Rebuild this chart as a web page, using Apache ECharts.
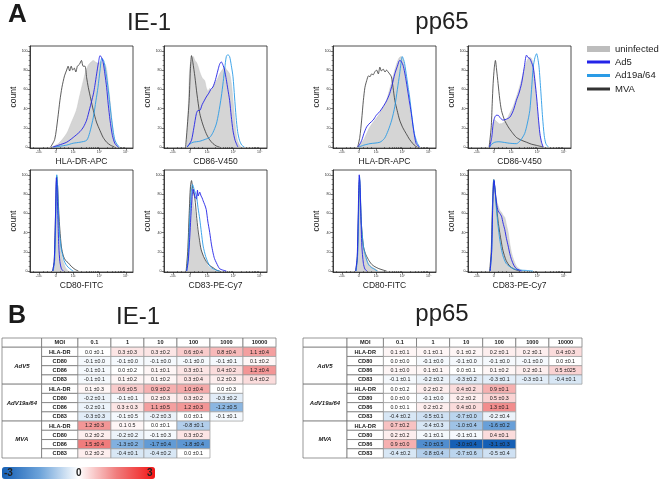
<!DOCTYPE html>
<html><head><meta charset="utf-8">
<script src="https://cdn.jsdelivr.net/npm/echarts@6/dist/echarts.min.js"></script>
<style>html,body{margin:0;padding:0;background:#fff}#c{width:660px;height:481px}</style>
</head><body><div id="c"></div>
<script>
// ================= DATA =================
const moiLabels = ['0.1','1','10','100','1000','10000'];
const markers = ['HLA-DR','CD80','CD86','CD83'];
const groups = ['AdV5','AdV19a/64','MVA'];

const ie1AdV5 = [
 ['0.0 ±0.1','0.3 ±0.3','0.3 ±0.2','0.6 ±0.4','0.8 ±0.4','1.1 ±0.4'],
 ['-0.1 ±0.0','-0.1 ±0.0','-0.1 ±0.0','-0.1 ±0.0','-0.1 ±0.1','0.1 ±0.2'],
 ['-0.1 ±0.1','0.0 ±0.2','0.1 ±0.1','0.3 ±0.1','0.4 ±0.2','1.2 ±0.4'],
 ['-0.1 ±0.1','0.1 ±0.2','0.1 ±0.2','0.3 ±0.4','0.2 ±0.3','0.4 ±0.2']];
const ie1AdV19 = [
 ['0.1 ±0.3','0.6 ±0.5','0.9 ±0.2','1.0 ±0.4','0.0 ±0.3'],
 ['-0.2 ±0.1','-0.1 ±0.1','0.2 ±0.3','0.3 ±0.2','-0.3 ±0.2'],
 ['-0.2 ±0.1','0.3 ± 0.3','1.1 ±0.5','1.2 ±0.3','-1.2 ±0.5'],
 ['-0.3 ±0.3','-0.1 ±0.5','-0.2 ±0.3','0.0 ±0.1','-0.1 ±0.1']];
const ie1MVA = [
 ['1.2 ±0.3','0.1 0.5','0.0 ±0.1','-0.8 ±0.1'],
 ['0.2 ±0.2','-0.2 ±0.2','-0.1 ±0.3','0.3 ±0.2'],
 ['1.5 ±0.4','-1.3 ±0.2','-1.7 ±0.4','-1.8 ±0.4'],
 ['0.2 ±0.2','-0.4 ±0.1','-0.4 ±0.2','0.0 ±0.1']];
const pp65AdV5 = [
 ['0.1 ±0.1','0.1 ±0.1','0.1 ±0.2','0.2 ±0.1','0.2 ±0.1','0.4 ±0.3'],
 ['0.0 ±0.0','-0.1 ±0.0','-0.1 ±0.0','-0.1 ±0.0','-0.1 ±0.0','0.0 ±0.1'],
 ['0.1 ±0.0','0.1 ±0.1','0.0 ±0.1','0.1 ±0.2','0.2 ±0.1','0.5 ±025'],
 ['-0.1 ±0.1','-0.2 ±0.2','-0.3 ±0.2','-0.3 ±0.1','-0.3 ±0.1','-0.4 ±0.1']];
const pp65AdV19 = [
 ['0.0 ±0.2','0.2 ±0.2','0.4 ±0.2','0.9 ±0.1'],
 ['0.0 ±0.0','-0.1 ±0.0','0.2 ±0.2','0.5 ±0.3'],
 ['0.0 ±0.1','0.2 ±0.2','0.4 ±0.0','1.3 ±0.1'],
 ['-0.4 ±0.2','-0.5 ±0.1','-0.7 ±0.0','-0.2 ±0.4']];
const pp65MVA = [
 ['0.7 ±0.2','-0.4 ±0.3','-1.0 ±0.4','-1.6 ±0.2'],
 ['0.2 ±0.2','-0.1 ±0.1','-0.1 ±0.1','0.4 ±0.1'],
 ['0.9 ±0.0','-2.0 ±0.5','-3.0 ±0.4','-3.1 ±0.3'],
 ['-0.4 ±0.2','-0.8 ±0.4','-0.7 ±0.6','-0.5 ±0.4']];

const colorbarLabels = ['-3','0','3'];
const xTickLabels = ['-10³','0','10³','10⁴','10⁵'];
const yTickValues = [0,20,40,60,80,100];

// histograms: [display position (% of axis), count]
const ie1HLA_uninf = [[21,0],[28,4],[35.6,14],[40,25],[45,38],[48,52],[51.8,69],[54,78],[56.6,85],[59,88],[61.5,90],[64,88],[66,87],[68.5,89],[71,88],[73,86],[74.5,80],[76,65],[77.7,48],[79.5,28],[81,14],[82.5,6],[84,2],[86,0]];
const ie1HLA_mva = [[20,0],[24,8],[27,30],[29,48],[31,62],[33.5,74],[35.6,80],[37,84],[38.5,79],[40,84],[41.5,80],[43,82],[44.5,78],[46,84],[48,86],[50,90],[51.5,84],[53.4,84],[55,72],[56.6,62],[59,50],[61.5,38],[64.5,26],[68,17],[71,10],[74.4,5],[78,2],[82,0]];
const ie1HLA_ad19 = [[23,0],[30,1],[35.6,2],[42,4],[48.5,5],[55,7],[58,15],[61.5,31],[64,48],[66,62],[68,80],[69.6,92],[71,91],[72,88],[74.4,73],[76.5,55],[79,31],[81,15],[82.5,7],[85,2],[87,0]];
const ie1HLA_ad5 = [[22,0],[28,2],[35.6,5],[42,10],[48.5,16],[52,21],[55,28],[58,40],[61.5,55],[63,64],[64.7,76],[66.5,88],[68,95],[69.5,93],[71,88],[72.7,76],[74.4,62],[76,44],[77.7,28],[80,12],[82.5,3.5],[85.8,0]];

const ie1CD86_uninf = [[22,0],[23.5,40],[25,83],[26.7,90],[28.3,94],[30,90],[31.5,88],[33,84],[34.7,78],[37,72],[39.5,69],[41,62],[42.8,58],[44.5,61],[46,59],[47.5,63],[49,66],[51.5,70],[54,76],[56.5,80],[58.8,83],[61,80],[63.7,76],[65.5,65],[67,48.6],[68.5,30],[70,14],[71.5,6],[73.3,2],[75,0]];
const ie1CD86_mva = [[21,0],[22.5,20],[24.4,48],[25.6,80],[26.7,95],[28,88],[30,73],[32,55],[34.7,35],[37.5,24],[41,14],[44,8],[47.6,3.5],[51,1],[54,0]];
const ie1CD86_ad19 = [[22.5,0],[25,3],[28.3,5],[34.7,6],[40,8],[44.4,10],[47.5,15],[50.8,24],[53,35],[55.6,52],[57.5,68],[59,82],[60.5,94],[62,96],[63.7,94],[65.3,85],[67,73],[68.5,52],[70,31],[71.5,16],[73.3,7],[75.5,2],[78,0]];
const ie1CD86_ad5 = [[22.5,0],[24.5,3],[26.7,7],[29,20],[31.5,35],[33,38],[34.7,38],[37,44],[39,48],[41,52],[43.5,56],[45.5,60],[47.6,62.5],[50,70],[52.4,80],[54,86],[55.6,88.5],[57,86],[58.8,80],[60.5,70],[62,60],[63.7,48.6],[65.3,32],[67,17],[69,7],[71.7,0]];

const pp65HLA_uninf = [[24,0],[27,4],[29.5,7],[32.7,14],[35.9,21],[40,27],[45.5,35],[49,42],[52,48.6],[55,60],[58.3,73],[60.5,82],[63,90],[64.5,93],[66.3,94],[68,90],[69.5,83],[71.5,68],[73,55],[74.4,42],[76.5,25],[79,10],[80.8,4],[82.4,0]];
const pp65HLA_mva = [[24,0],[26,10],[27.8,28],[29.5,48.6],[31,62],[32.7,69],[34.5,74],[35.9,73],[37.5,76],[39,75],[40.5,78],[42.3,80],[44,76],[45.5,83],[47,79],[48.7,81],[50.5,78],[52,80],[53.5,78],[55,76],[56.7,73],[58.3,62],[60,48.6],[62.3,38],[64.7,28],[67.8,20],[71,14],[74.3,8],[77.6,3.5],[80,1],[82,0]];
const pp65HLA_ad19 = [[25,0],[30,2],[35.9,3.5],[45.5,5],[50,9],[53.5,17],[57,28],[60,42],[62.5,60],[64.7,76],[66,87],[67.3,94],[68.5,91],[69.5,87],[71.5,73],[73,62],[74.4,52],[76.5,33],[79,14],[81.5,5],[84,0]];
const pp65HLA_ad5 = [[24,0],[26,3],[27.9,7],[30,14],[32.7,21],[35.9,25],[39,28],[42,33],[45.5,37],[48.7,42],[52,48],[55,55.6],[57.5,65],[60,76],[62.5,84],[64.7,90],[66.3,89],[68,85],[69.5,78],[71,69],[73.5,52],[76,35],[78.3,17],[80.8,3.5],[84,0]];

const pp65CD86_uninf = [[21,0],[23,8],[24.5,22],[26,28],[28.3,26],[30.8,24],[34,25],[37.3,28],[40.5,35],[43.8,42],[47,52],[50,62.5],[52.5,72],[55,83],[56.7,88],[58.4,92],[60,93],[61.7,92],[63.3,85],[65,73],[66.5,52],[68,31],[69.7,14],[71.4,3.5],[73,0]];
const pp65CD86_mva = [[20.5,0],[22.5,20],[23.5,45],[24.4,66],[25.5,82],[26.6,90],[27.8,80],[29.2,66],[30.8,50],[32.5,38],[35.5,28],[39,21],[43,15],[47,10],[52,7],[56.8,5],[61.5,3],[66.6,1.7],[73,0]];
const pp65CD86_ad19 = [[21,0],[23,3],[26,5],[30,5.5],[34,5],[40,4],[47,3.5],[51,7],[55,14],[57.5,24],[60,38],[61.7,60],[63.3,83],[65,93],[66.6,97],[67.8,92],[69,83],[70.7,58],[72.4,31],[74,12],[75.6,3.5],[78,0]];
const pp65CD86_ad5 = [[21,0],[23,10],[24.5,25],[26,31],[27.5,33],[29.2,33],[31.5,30],[34,28],[37.3,29],[40.6,31],[44,38],[47,48.6],[49.5,56],[52,66],[54.5,82],[56.8,95.5],[58.4,93],[60,92],[61.7,88],[63.3,83],[65,68],[66.6,52],[68.2,32],[69.8,14],[71.4,5],[73,0]];

const ie1CD80_uninf = [[22.5,0],[24,15],[25,60],[25.8,93],[26.5,90],[27.5,60],[28.5,35],[30,20],[31.5,12],[33.5,6],[34.5,3.5],[37,0]];
const ie1CD80_mva = [[22,0],[23.5,10],[24.5,45],[25.5,90],[26,98],[26.7,90],[28,60],[29,43],[30.5,25],[32.4,15.6],[34.5,11],[37,8.7],[40,5],[43.7,1.7],[47,0]];
const ie1CD80_ad19 = [[22.5,0],[24,12],[25.2,60],[26,100],[26.8,88],[27.8,55],[29,35],[30.5,22],[31.6,17],[33,11],[34.8,7],[37,4],[40.5,1],[42,0]];
const ie1CD80_ad5 = [[22,0],[23.5,10],[24.8,60],[25.6,97],[26.3,85],[27.2,50],[28,25],[29,10],[30.5,2.4],[32.4,0]];

const ie1CD83_uninf = [[22,0],[23.5,25],[24.8,70],[26,88.5],[27.2,80],[28.5,70],[30,61],[31.5,48],[33,36.5],[34.7,28],[36.3,21],[38.5,14],[41,8.7],[44,4],[47.6,1.7],[50,0]];
const ie1CD83_mva = [[21.5,0],[23,20],[24.5,60],[25.7,88],[26.7,94],[28,85],[30,75],[31.5,58],[33,43],[34.5,32],[36,22.6],[38.5,15],[41,10],[44,6],[47.6,3.5],[51,1],[54,0]];
const ie1CD83_ad19 = [[22,0],[23.5,15],[25,55],[26.5,82],[27.7,90],[29.5,84],[31.5,78],[33,66],[34.7,54],[36.3,40],[38,26],[40.5,15],[42.8,8.7],[45,4.5],[47.6,2.4],[51,0.8],[54,0]];
const ie1CD83_ad5 = [[22,0],[23.5,10],[25,35],[26,55],[26.7,68],[27.5,80],[28.3,85],[29.5,80],[30.5,76],[31.5,75],[32.5,84],[33.2,78],[34.7,82],[36,78],[37,76],[38,73],[39.5,69],[41,64],[42.5,52],[44.4,40],[46,28],[47.6,19],[49,13],[50.8,8.7],[52.5,5],[54,2.4],[57,1],[60.5,0]];

const pp65CD80_uninf = [[22.5,0],[24,20],[25,70],[25.7,92],[26.5,75],[27.5,45],[29.5,22.6],[31.5,15],[34.3,8.7],[37.5,4.5],[40.7,2.4],[44,0]];
const pp65CD80_mva = [[22,0],[23.5,12],[24.5,50],[25.3,88],[25.8,95],[26.5,80],[27.5,50],[29.5,26],[31.5,18],[34.3,12],[37.5,7],[40.7,4.5],[44.5,2.5],[48.7,1],[52,0]];
const pp65CD80_ad19 = [[22.5,0],[24,18],[25,65],[25.8,98],[26.6,80],[27.5,50],[29.5,26],[31.5,16],[34.3,7],[37.5,3.5],[39.5,2.4],[43,0]];
const pp65CD80_ad5 = [[22,0],[23.5,15],[24.5,60],[25.5,100],[26.2,90],[27,60],[28,26],[29.5,8],[31,2],[33,0]];

const pp65CD83_uninf = [[21.5,0],[23,25],[24,70],[25,92],[26,88],[27.5,75],[29.2,68],[31,63],[32.5,61],[34,58],[35.7,55.6],[37.3,48],[39,40],[40.6,28],[42.2,19],[44.5,11],[47,5],[49.5,2.5],[52,1],[54,0]];
const pp65CD83_mva = [[21,0],[22.5,20],[23.8,70],[25,95],[26.2,85],[27.6,68],[29.2,52],[30.8,40],[32.4,30],[34,21],[37,11],[40.6,5],[44,2.4],[47,1],[50,0]];
const pp65CD83_ad19 = [[21.5,0],[23,20],[24,70],[25,95],[26.2,85],[27.6,64],[29.2,47],[30.8,33],[32.4,23],[34,15.6],[37,8],[40.6,4.5],[45,2],[50,1],[57,0.6],[63,0]];
const pp65CD83_ad5 = [[21.5,0],[23,22],[24.2,75],[25.3,94],[26.5,82],[27.8,70],[29.2,62.5],[30.8,60],[32.5,57],[34,50],[35.7,43],[37.3,34],[39,26],[40.6,18],[42.2,12],[44.5,6],[47,2.4],[50,0.8],[52,0]];

// ================= LAYOUT / BUILD =================
const FONT = '"Liberation Sans", Arial, sans-serif';
const xTickPos = [8.7, 25, 42, 67.5, 93];
const xMinor = [];
[3.5, 12.5, 16.5, 20.5, 29.5, 33.5, 37.5].forEach(v => xMinor.push(v));
[42, 67.5].forEach(d => { for (let k = 2; k <= 9; k++) { const p = d + 25.5 * Math.log10(k); if (p < 100) xMinor.push(p); } });
const yMinor = [];
for (let v = 5; v <= 105; v += 5) if (v % 20 !== 0) yMinor.push(v);

const panels = [
  {left:30,  top:46,  name:'HLA-DR-APC', d:[ie1HLA_uninf, ie1HLA_mva, ie1HLA_ad19, ie1HLA_ad5]},
  {left:164, top:46,  name:'CD86-V450',  d:[ie1CD86_uninf, ie1CD86_mva, ie1CD86_ad19, ie1CD86_ad5]},
  {left:333, top:46,  name:'HLA-DR-APC', d:[pp65HLA_uninf, pp65HLA_mva, pp65HLA_ad19, pp65HLA_ad5]},
  {left:468, top:46,  name:'CD86-V450',  d:[pp65CD86_uninf, pp65CD86_mva, pp65CD86_ad19, pp65CD86_ad5]},
  {left:30,  top:170, name:'CD80-FITC',  d:[ie1CD80_uninf, ie1CD80_mva, ie1CD80_ad19, ie1CD80_ad5]},
  {left:164, top:170, name:'CD83-PE-Cy7',d:[ie1CD83_uninf, ie1CD83_mva, ie1CD83_ad19, ie1CD83_ad5]},
  {left:333, top:170, name:'CD80-FITC',  d:[pp65CD80_uninf, pp65CD80_mva, pp65CD80_ad19, pp65CD80_ad5]},
  {left:468, top:170, name:'CD83-PE-Cy7',d:[pp65CD83_uninf, pp65CD83_mva, pp65CD83_ad19, pp65CD83_ad5]}
];
const seriesDefs = [
  {name:'uninfected', color:'#bdbdbd', line:'#c6c6c6', w:0.5, area:'#d5d5d5'},
  {name:'MVA', color:'#333333', line:'#333333', w:0.8},
  {name:'Ad19a/64', color:'#2a9be6', line:'#2a9be6', w:0.9},
  {name:'Ad5', color:'#2323e8', line:'#2323e8', w:0.9}
];

const grid = [], xAxis = [], yAxis = [], series = [];
panels.forEach((p, g) => {
  grid.push({left:p.left, top:p.top, width:103, height:102, show:true, borderColor:'#222', borderWidth:0.8, backgroundColor:'transparent'});
  xAxis.push({type:'value', gridIndex:g, min:0, max:100, name:p.name, nameLocation:'middle', nameGap:9,
    nameTextStyle:{fontSize:8.5, color:'#222', fontFamily:FONT},
    axisLine:{show:true, onZero:false, lineStyle:{color:'#222', width:0.8}},
    axisTick:{show:true, customValues:xTickPos, length:2.5, lineStyle:{color:'#222', width:0.6}},
    axisLabel:{show:true, customValues:xTickPos, fontSize:3.5, margin:2.5, color:'#333', fontFamily:FONT,
      formatter:v => { const i = xTickPos.findIndex(t => Math.abs(t - v) < 0.01); return i >= 0 ? xTickLabels[i] : ''; }},
    splitLine:{show:false}});
  xAxis.push({type:'value', gridIndex:g, min:0, max:100, position:'bottom',
    axisLine:{show:false}, axisLabel:{show:false}, splitLine:{show:false},
    axisTick:{show:true, customValues:xMinor, length:1.4, lineStyle:{color:'#222', width:0.5}}});
  yAxis.push({type:'value', gridIndex:g, min:-1, max:105, name:'count', nameLocation:'middle', nameGap:11,
    nameTextStyle:{fontSize:8.5, color:'#222', fontFamily:FONT},
    axisLine:{show:true, onZero:false, lineStyle:{color:'#222', width:0.8}},
    axisTick:{show:true, customValues:yTickValues, length:2.5, lineStyle:{color:'#222', width:0.6}},
    axisLabel:{show:true, customValues:yTickValues, fontSize:3.5, margin:2.5, color:'#333', fontFamily:FONT},
    splitLine:{show:false}});
  yAxis.push({type:'value', gridIndex:g, min:-1, max:105, position:'left',
    axisLine:{show:false}, axisLabel:{show:false}, splitLine:{show:false},
    axisTick:{show:true, customValues:yMinor, length:1.4, lineStyle:{color:'#222', width:0.5}}});
  seriesDefs.forEach((s, k) => {
    const o = {type:'line', name:s.name, xAxisIndex:2*g, yAxisIndex:2*g, data:p.d[k],
      showSymbol:false, smooth:0.25, animation:false, silent:true, z:2+k,
      itemStyle:{color:s.color}, lineStyle:{color:s.line, width:s.w}};
    if (s.area) o.areaStyle = {color:s.area, opacity:1};
    series.push(o);
  });
});

// ---- tables ----
function buildCells(groupData) {
  const cells = [];
  cells.push({col:0,row:0,span:1,text:'',kind:'head'});
  cells.push({col:1,row:0,span:1,text:'MOI',kind:'head'});
  moiLabels.forEach((m,i) => cells.push({col:2+i,row:0,span:1,text:m,kind:'head'}));
  groupData.forEach((gd, gi) => {
    const r0 = 1 + gi*4;
    cells.push({col:0,row:r0,span:4,text:groups[gi],kind:'group'});
    gd.forEach((rowVals, mi) => {
      cells.push({col:1,row:r0+mi,span:1,text:markers[mi],kind:'marker'});
      rowVals.forEach((s, ci) => cells.push({col:2+ci,row:r0+mi,span:1,text:s,kind:'val',v:parseFloat(s)}));
    });
  });
  return cells;
}
const tables = [
  {left:2,   width:274, groupW:1.2,  cells:buildCells([ie1AdV5, ie1AdV19, ie1MVA])},
  {left:303, width:279, groupW:1.33, cells:buildCells([pp65AdV5, pp65AdV19, pp65MVA])}
];
const tableSeriesIdx = [];
tables.forEach((t, ti) => {
  const g = grid.length;
  const edges = [-t.groupW, 0, 1.1];
  for (let i = 1; i <= 6; i++) edges.push(1.1 + i);
  grid.push({left:t.left, top:338, width:t.width, height:120});
  xAxis.push({type:'value', gridIndex:g, min:-t.groupW, max:7.1, show:false});
  yAxis.push({type:'value', gridIndex:g, min:0, max:13, inverse:true, show:false});
  const cells = t.cells;
  tableSeriesIdx.push(series.length);
  series.push({
    type:'custom', xAxisIndex:xAxis.length-1, yAxisIndex:yAxis.length-1, animation:false, silent:true, clip:false,
    data:cells.map(c => [c.col, c.row, c.span, c.kind === 'val' ? c.v : 0]),
    renderItem:(params, api) => {
      const c = cells[params.dataIndex];
      const p0 = api.coord([edges[c.col], c.row]);
      const p1 = api.coord([edges[c.col+1], c.row + c.span]);
      const w = p1[0]-p0[0], h = p1[1]-p0[1];
      let fill = '#ffffff', font;
      if (c.kind === 'val') { fill = api.visual('color'); font = '5.3px ' + FONT; }
      else if (c.kind === 'group') font = 'italic bold 6px ' + FONT;
      else font = 'bold 5.6px ' + FONT;
      return {type:'group', children:[
        {type:'rect', shape:{x:p0[0], y:p0[1], width:w, height:h},
          style:{fill:fill, stroke: c.kind === 'val' ? '#9a9a9a' : '#6a6a6a', lineWidth:0.7}},
        {type:'text', style:{text:c.text, x:p0[0]+w/2, y:p0[1]+h/2+0.3, align:'center', verticalAlign:'middle', font:font, fill:'#1a1a1a'}}
      ]};
    }
  });
});

const chart = echarts.init(document.getElementById('c'), null, {renderer:'canvas'});
chart.setOption({
  backgroundColor:'#ffffff',
  animation:false,
  title:[
    {text:'A', left:8, top:2, padding:0, textStyle:{fontSize:26, fontWeight:'bold', color:'#1a1a1a', fontFamily:FONT}},
    {text:'IE-1', left:149, top:11, padding:0, textAlign:'center', textStyle:{fontSize:24, fontWeight:'normal', color:'#222', fontFamily:FONT}},
    {text:'pp65', left:442, top:10, padding:0, textAlign:'center', textStyle:{fontSize:24, fontWeight:'normal', color:'#222', fontFamily:FONT}},
    {text:'B', left:8, top:304, padding:0, textStyle:{fontSize:25, fontWeight:'bold', color:'#1a1a1a', fontFamily:FONT}},
    {text:'IE-1', left:138, top:305, padding:0, textAlign:'center', textStyle:{fontSize:24, fontWeight:'normal', color:'#222', fontFamily:FONT}},
    {text:'pp65', left:442, top:302, padding:0, textAlign:'center', textStyle:{fontSize:24, fontWeight:'normal', color:'#222', fontFamily:FONT}}
  ],
  legend:[
    {data:['uninfected'], orient:'vertical', left:587, top:44, padding:0, itemWidth:23, itemHeight:6, icon:'rect',
      textStyle:{fontSize:9.5, color:'#222', fontFamily:FONT}, selectedMode:false},
    {data:['Ad5','Ad19a/64','MVA'], orient:'vertical', left:587, top:57, padding:0, itemWidth:23, itemHeight:3, itemGap:3.5, icon:'rect',
      textStyle:{fontSize:9.5, color:'#222', fontFamily:FONT}, selectedMode:false}
  ],
  visualMap:{type:'continuous', min:-3, max:3, orient:'horizontal', left:2, top:467, itemWidth:12, itemHeight:153,
    padding:0, calculable:false, hoverLink:false, seriesIndex:tableSeriesIdx, dimension:3,
    inRange:{color:['#155fb5','#6ea4da','#ffffff','#f07c7c','#f21616']}, text:null, showLabel:false},
  graphic: colorbarLabels.map((t, i) => ({type:'text', left:[4, 76, 147][i], top:468,
    style:{text:t, font:'bold 10px ' + FONT, fill:'#222'}, silent:true, z:100})),
  grid, xAxis, yAxis, series
});
</script></body></html>
